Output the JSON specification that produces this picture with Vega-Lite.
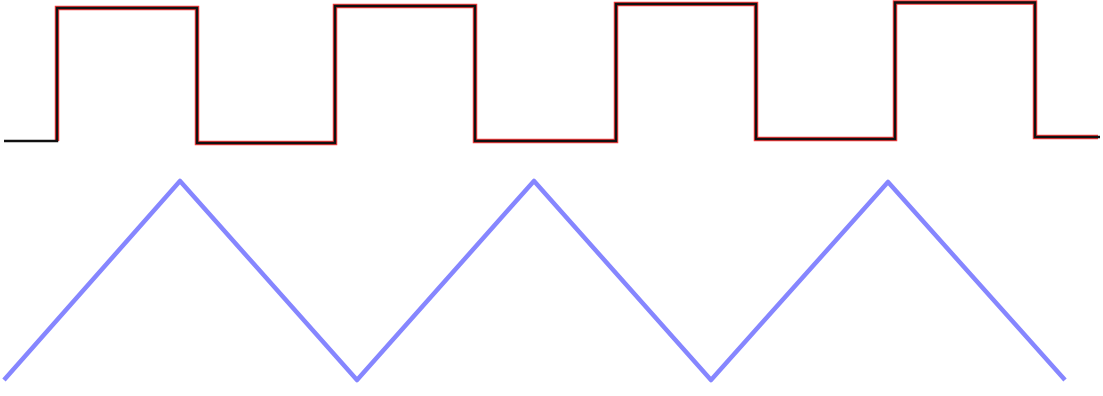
{
  "$schema": "https://vega.github.io/schema/vega-lite/v6.json",
  "width": 1103,
  "height": 396,
  "autosize": {"type": "none"},
  "padding": 0,
  "background": "#ffffff",
  "config": {"view": {"stroke": null}},
  "datasets": {
    "red": [
      {"i": 1, "x": 57, "y": 141}, {"i": 2, "x": 57, "y": 8}, {"i": 3, "x": 197, "y": 8},
      {"i": 4, "x": 197, "y": 143}, {"i": 5, "x": 335, "y": 143}, {"i": 6, "x": 335, "y": 6},
      {"i": 7, "x": 475, "y": 6}, {"i": 8, "x": 475, "y": 141}, {"i": 9, "x": 616, "y": 141},
      {"i": 10, "x": 616, "y": 4}, {"i": 11, "x": 756, "y": 4}, {"i": 12, "x": 756, "y": 139},
      {"i": 13, "x": 895, "y": 139}, {"i": 14, "x": 895, "y": 2.5}, {"i": 15, "x": 1035, "y": 2.5},
      {"i": 16, "x": 1035, "y": 137}, {"i": 17, "x": 1098, "y": 137}
    ],
    "black": [
      {"i": 0, "x": 4, "y": 141}, {"i": 1, "x": 57, "y": 141}, {"i": 2, "x": 57, "y": 8}, {"i": 3, "x": 197, "y": 8},
      {"i": 4, "x": 197, "y": 143}, {"i": 5, "x": 335, "y": 143}, {"i": 6, "x": 335, "y": 6},
      {"i": 7, "x": 475, "y": 6}, {"i": 8, "x": 475, "y": 141}, {"i": 9, "x": 616, "y": 141},
      {"i": 10, "x": 616, "y": 4}, {"i": 11, "x": 756, "y": 4}, {"i": 12, "x": 756, "y": 139},
      {"i": 13, "x": 895, "y": 139}, {"i": 14, "x": 895, "y": 2.5}, {"i": 15, "x": 1035, "y": 2.5},
      {"i": 16, "x": 1035, "y": 137}, {"i": 17, "x": 1100, "y": 137}
    ],
    "tri": [
      {"i": 0, "x": 4, "y": 380}, {"i": 1, "x": 180, "y": 181}, {"i": 2, "x": 357, "y": 380},
      {"i": 3, "x": 534, "y": 181}, {"i": 4, "x": 711, "y": 380}, {"i": 5, "x": 888, "y": 182},
      {"i": 6, "x": 1065, "y": 380}
    ]
  },
  "encoding": {
    "x": {"field": "x", "type": "quantitative", "scale": {"domain": [0, 1103], "nice": false, "zero": false}, "axis": null},
    "y": {"field": "y", "type": "quantitative", "scale": {"domain": [0, 396], "reverse": true, "nice": false, "zero": false}, "axis": null},
    "order": {"field": "i", "type": "quantitative"}
  },
  "layer": [
    {"data": {"name": "red"}, "mark": {"type": "line", "stroke": "#ff1a1a", "strokeWidth": 4.5, "opacity": 0.85, "strokeJoin": "miter", "strokeCap": "butt"}},
    {"data": {"name": "black"}, "mark": {"type": "line", "stroke": "#111111", "strokeWidth": 2.5, "strokeJoin": "miter", "strokeCap": "butt"}},
    {"data": {"name": "tri"}, "mark": {"type": "line", "stroke": "#8080ff", "strokeWidth": 4.5, "strokeJoin": "round", "strokeCap": "butt", "opacity": 0.95}}
  ]
}
